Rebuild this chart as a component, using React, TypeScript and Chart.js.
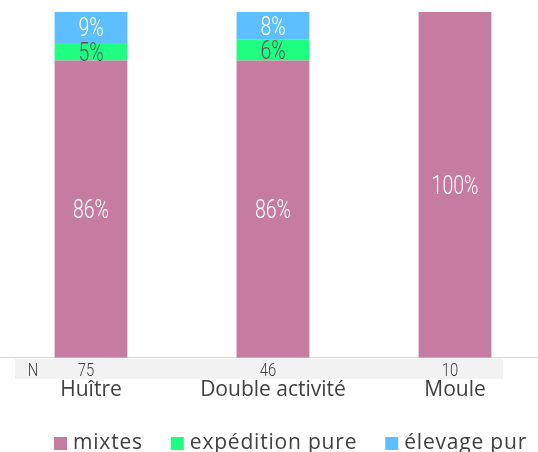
import React, { useEffect, useRef } from 'react';
import { Chart, registerables } from 'chart.js';

Chart.register(...registerables);

const categories = ['Huître', 'Double activité', 'Moule'];
const sampleSizes = [75, 46, 10];
const mixtes = [86, 86, 100];
const expeditionPure = [5, 6, 0];
const elevagePur = [9, 8, 0];
const seriesNames = ['mixtes', 'expédition pure', 'élevage pur'];
const seriesColors = ['#C67BA0', '#1FFF82', '#5DBFFF'];
const labelColors = ['#FFFFFF', '#595959', '#FFFFFF'];

const TEXT = '#404040';
const CAT_FONT = '"Open Sans", "Noto Sans", sans-serif';

function condensed(ctx: CanvasRenderingContext2D, text: string, x: number, cy: number, size: number, color: string, sx = 0.78) {
  ctx.save();
  ctx.translate(x, cy + size * 0.711 / 2);
  ctx.scale(sx, 1);
  ctx.font = `300 ${size}px Roboto, "DejaVu Sans", sans-serif`;
  ctx.fillStyle = color;
  ctx.textAlign = 'center';
  ctx.textBaseline = 'alphabetic';
  ctx.fillText(text, 0, 0);
  ctx.restore();
}

const overlay = {
  id: 'overlay',
  afterDraw(chart: any) {
    const ctx: CanvasRenderingContext2D = chart.ctx;
    const area = chart.chartArea;
    // value labels
    chart.data.datasets.forEach((ds: any, i: number) => {
      const meta = chart.getDatasetMeta(i);
      meta.data.forEach((el: any, j: number) => {
        const v = ds.data[j];
        if (!v) return;
        const p = el.getProps(['x', 'y', 'base'], true);
        condensed(ctx, v + '%', p.x, (p.y + p.base) / 2, 25, labelColors[i]);
      });
    });
    // N row
    const xs = chart.scales.x;
    const top = area.bottom + 1;
    ctx.save();
    ctx.fillStyle = '#F2F2F2';
    ctx.fillRect(15, top, 488, 20);
    ctx.restore();
    condensed(ctx, 'N', 33, top + 10, 19, TEXT);
    sampleSizes.forEach((n, j) => condensed(ctx, String(n), xs.getPixelForValue(j) - 5, top + 10, 19, TEXT));
    // legend
    ctx.save();
    ctx.font = `21px ${CAT_FONT}`;
    (ctx as any).letterSpacing = '0.8px';
    ctx.textBaseline = 'alphabetic';
    ctx.textAlign = 'left';
    let x = 54;
    const baseline = 449;
    seriesNames.forEach((name, i) => {
      ctx.fillStyle = seriesColors[i];
      ctx.fillRect(x, 437, 13, 13);
      x += 13 + 6;
      ctx.fillStyle = TEXT;
      ctx.fillText(name, x, baseline);
      x += ctx.measureText(name).width + 28;
    });
    ctx.restore();
  },
};

export default function App() {
  const ref = useRef<HTMLCanvasElement>(null);
  useEffect(() => {
    if (!ref.current) return;
    const chart = new Chart(ref.current, {
      type: 'bar',
      data: {
        labels: categories,
        datasets: [
          { label: seriesNames[0], data: mixtes, backgroundColor: seriesColors[0] },
          { label: seriesNames[1], data: expeditionPure, backgroundColor: seriesColors[1] },
          { label: seriesNames[2], data: elevagePur, backgroundColor: seriesColors[2] },
        ],
      },
      options: {
        responsive: false,
        animation: false,
        devicePixelRatio: 1,
        datasets: { bar: { categoryPercentage: 1, barPercentage: 0.4 } },
        layout: { padding: { top: 12, bottom: 29, left: 0, right: 0 } },
        plugins: { legend: { display: false }, tooltip: { enabled: false } },
        scales: {
          x: {
            stacked: true,
            grid: { display: false, drawTicks: false },
            border: { display: true, color: '#D9D9D9', width: 1 },
            ticks: { color: TEXT, font: { family: CAT_FONT, size: 21 }, padding: 20 },
          },
          y: { stacked: true, display: false, min: 0, max: 100 },
        },
      },
      plugins: [overlay],
    } as any);
    return () => chart.destroy();
  }, []);
  return (
    <div style={{ position: 'absolute', left: 0, top: 0, width: 538, height: 452, overflow: 'hidden', background: '#fff' }}>
      <canvas ref={ref} width={546} height={452} style={{ display: 'block' }} />
    </div>
  );
}
